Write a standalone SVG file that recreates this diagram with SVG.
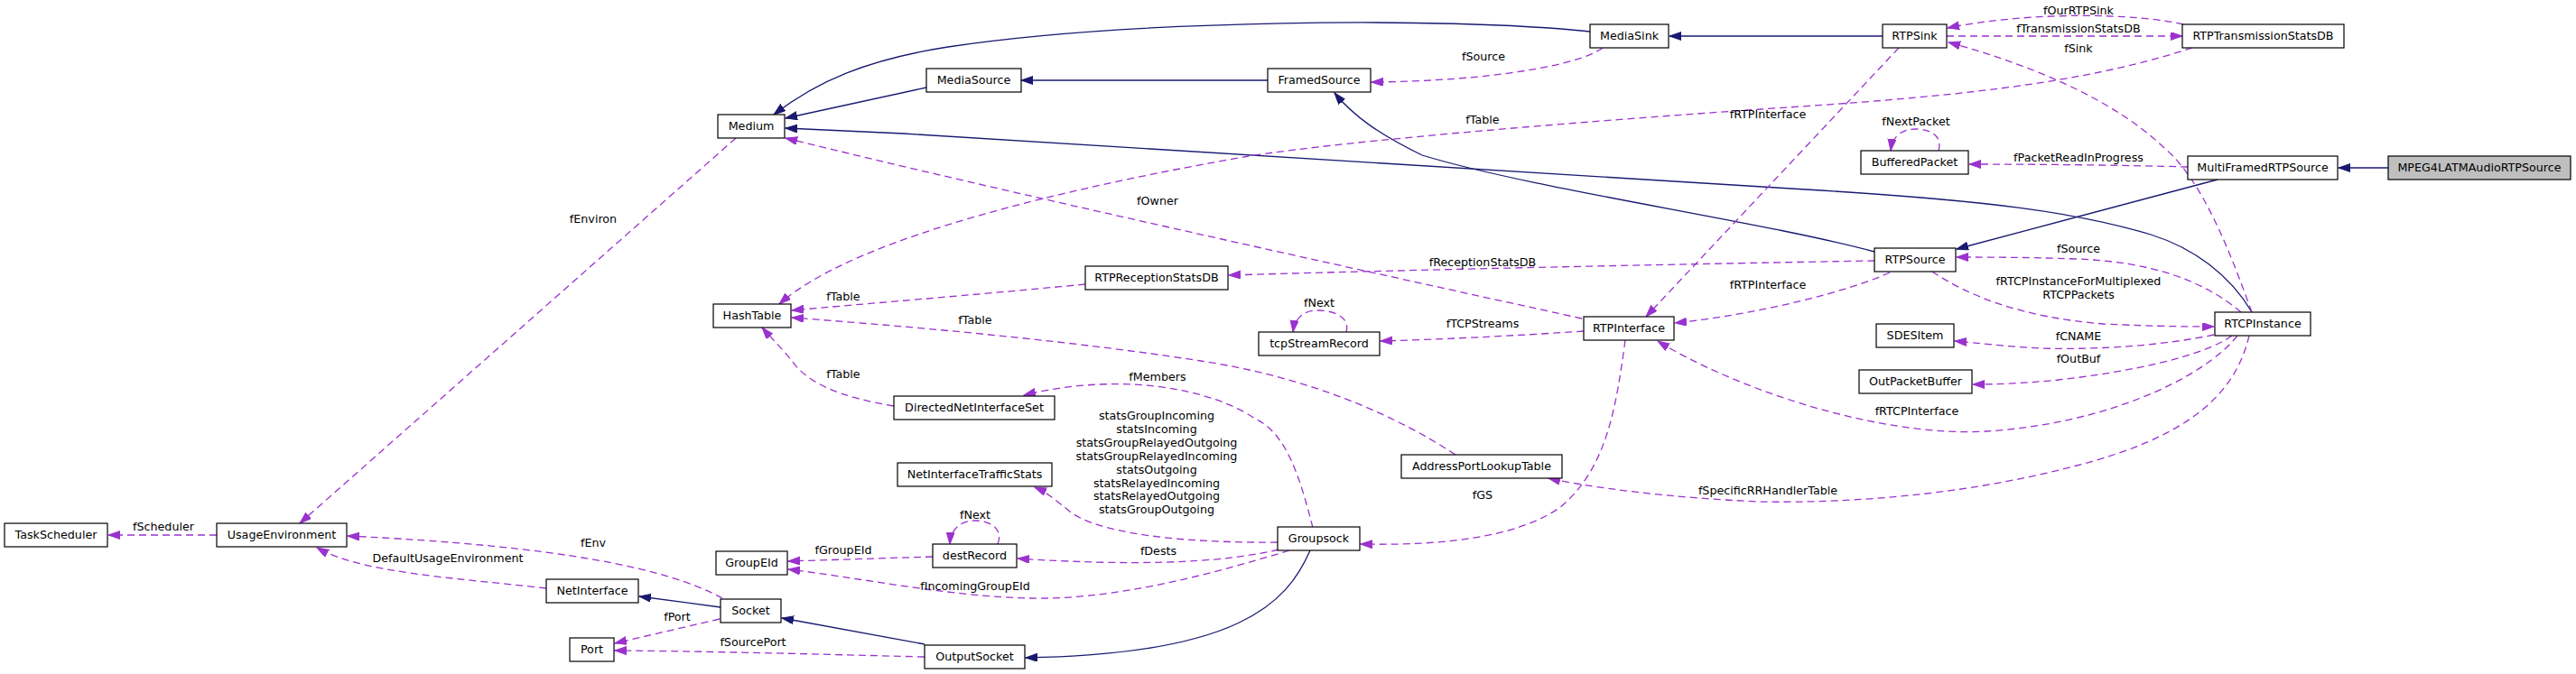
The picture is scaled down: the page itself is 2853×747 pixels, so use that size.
<svg xmlns="http://www.w3.org/2000/svg" width="2853" height="747" viewBox="0 0 2853 747">
<style>
.n rect{fill:#fff;stroke:#000;stroke-width:1.2}
.n text,.l{font-family:"DejaVu Sans",sans-serif;font-size:12.7px;fill:#000;text-anchor:middle}
.s{fill:none;stroke:#191970;stroke-width:1.3;marker-end:url(#an)}
.d{fill:none;stroke:#9a32cd;stroke-width:1.3;stroke-dasharray:8,5;marker-end:url(#ap)}
</style>
<defs>
<marker id="an" markerUnits="userSpaceOnUse" markerWidth="14" markerHeight="10" refX="13" refY="4.5" orient="auto"><path d="M0,0L13,4.5L0,9z" fill="#191970" stroke="#191970" stroke-width="1"/></marker>
<marker id="ap" markerUnits="userSpaceOnUse" markerWidth="14" markerHeight="10" refX="13" refY="4.5" orient="auto"><path d="M0,0L13,4.5L0,9z" fill="#9a32cd" stroke="#9a32cd" stroke-width="1"/></marker>
</defs>
<rect width="2853" height="747" fill="#fff"/>
<g id="edges">
<path class="s" d="M1761,35 C1600,18 1250,22 1050,52 C960,66 905,90 857,127"/>
<path class="s" d="M1026,97 C985,106 930,118 870,131"/>
<path class="s" d="M1404,89 L1131,89"/>
<path class="s" d="M2076,279 C1950,245 1700,210 1575,172 C1530,150 1500,130 1478,103"/>
<path class="s" d="M2494,346 C2470,305 2430,275 2382,260 C2300,235 2200,222 2000,210 L1000,148 L870,142"/>
<path class="s" d="M2456,199 L2167,276"/>
<path class="s" d="M2645,186 L2590,186"/>
<path class="s" d="M2085,40 L1849,40"/>
<path class="s" d="M798,673 L708,661"/>
<path class="s" d="M1024,714 L866,685"/>
<path class="s" d="M1451,610 C1425,670 1370,725 1136,729"/>
<path class="d" d="M815,153 L332,580"/>
<path class="d" d="M240,593 L120,593"/>
<path class="d" d="M800,663 C740,630 620,605 385,594"/>
<path class="d" d="M605,652 C500,640 400,635 351,607"/>
<path class="d" d="M797,686 L681,713"/>
<path class="d" d="M1024,728 C900,725 800,722 681,721"/>
<path class="d" d="M1428,610 C1330,640 1230,665 1140,663 C1050,661 950,640 873,631"/>
<path class="d" d="M1033,617 L873,622"/>
<path class="d" d="M1416,609 C1350,625 1250,627 1127,619"/>
<path class="d" d="M1105,603 C1112,585 1095,577 1080,577 C1065,577 1053,585 1052,603"/>
<path class="d" d="M1415,601 C1300,602 1215,590 1185,567 C1170,555 1160,546 1146,540"/>
<path class="d" d="M1454,585 C1440,530 1425,480 1390,464 C1340,430 1240,412 1134,438"/>
<path class="d" d="M990,450 C930,440 895,425 877,400 C865,385 850,370 844,363"/>
<path class="d" d="M1612,504 C1530,450 1430,415 1330,400 C1200,380 1050,365 877,352"/>
<path class="d" d="M1202,315 C1100,325 1000,333 877,344"/>
<path class="d" d="M2428,53 C2300,95 2150,108 1950,121 C1750,135 1500,155 1383,173 C1200,205 950,260 863,337"/>
<path class="d" d="M1752,353 C1500,298 1100,210 870,153"/>
<path class="d" d="M2076,289 C1900,292 1600,298 1361,305"/>
<path class="d" d="M2093,302 C2050,322 1950,348 1855,358"/>
<path class="d" d="M2103,53 L1823,351"/>
<path class="d" d="M1775,53 C1750,72 1650,90 1519,91"/>
<path class="d" d="M2156,40 L2417,40"/>
<path class="d" d="M2418,27 C2370,15 2250,12 2157,31"/>
<path class="d" d="M2494,346 C2470,280 2440,200 2396,163 C2340,110 2250,72 2158,47"/>
<path class="d" d="M2147,167 C2152,150 2137,143 2122,143 C2107,143 2096,150 2094,167"/>
<path class="d" d="M2423,185 C2350,183 2260,182 2181,182"/>
<path class="d" d="M2482,346 C2440,310 2380,290 2300,287 C2240,285 2200,285 2167,285"/>
<path class="d" d="M2140,301 C2180,328 2240,352 2330,359 C2390,362 2430,362 2452,362"/>
<path class="d" d="M2452,371 C2400,382 2330,388 2260,386 C2220,384 2190,380 2165,378"/>
<path class="d" d="M2472,372 C2440,395 2360,412 2280,421 C2240,425 2210,426 2185,426"/>
<path class="d" d="M2478,372 C2440,420 2330,470 2200,478 C2080,485 1920,430 1836,378"/>
<path class="d" d="M2491,372 C2475,440 2420,485 2300,516 C2180,548 2050,558 1950,556 C1850,552 1760,540 1715,530"/>
<path class="d" d="M1754,367 C1680,372 1600,376 1529,378"/>
<path class="d" d="M1491,368 C1496,351 1476,344 1460,344 C1444,344 1434,352 1432,368"/>
<path class="d" d="M1800,377 C1790,450 1780,520 1727,563 C1680,595 1600,605 1507,603"/>
</g>
<g id="labels">
<text class="l" x="657" y="247">fEnviron</text>
<text class="l" x="181" y="588">fScheduler</text>
<text class="l" x="657" y="606">fEnv</text>
<text class="l" x="496" y="623">DefaultUsageEnvironment</text>
<text class="l" x="750" y="688">fPort</text>
<text class="l" x="834" y="716">fSourcePort</text>
<text class="l" x="934" y="614">fGroupEId</text>
<text class="l" x="934" y="419">fTable</text>
<text class="l" x="934" y="333">fTable</text>
<text class="l" x="1080" y="359">fTable</text>
<text class="l" x="1642" y="137">fTable</text>
<text class="l" x="1282" y="422">fMembers</text>
<text class="l" x="1281" y="465">statsGroupIncoming</text>
<text class="l" x="1281" y="480">statsIncoming</text>
<text class="l" x="1281" y="495">statsGroupRelayedOutgoing</text>
<text class="l" x="1281" y="510">statsGroupRelayedIncoming</text>
<text class="l" x="1281" y="525">statsOutgoing</text>
<text class="l" x="1281" y="540">statsRelayedIncoming</text>
<text class="l" x="1281" y="554">statsRelayedOutgoing</text>
<text class="l" x="1281" y="569">statsGroupOutgoing</text>
<text class="l" x="1080" y="575">fNext</text>
<text class="l" x="1283" y="615">fDests</text>
<text class="l" x="1080" y="654">fIncomingGroupEId</text>
<text class="l" x="1642" y="553">fGS</text>
<text class="l" x="1958" y="548">fSpecificRRHandlerTable</text>
<text class="l" x="1282" y="227">fOwner</text>
<text class="l" x="1642" y="295">fReceptionStatsDB</text>
<text class="l" x="1642" y="363">fTCPStreams</text>
<text class="l" x="1461" y="340">fNext</text>
<text class="l" x="1958" y="131">fRTPInterface</text>
<text class="l" x="1958" y="320">fRTPInterface</text>
<text class="l" x="1643" y="67">fSource</text>
<text class="l" x="2302" y="16">fOurRTPSink</text>
<text class="l" x="2302" y="36">fTransmissionStatsDB</text>
<text class="l" x="2302" y="58">fSink</text>
<text class="l" x="2122" y="139">fNextPacket</text>
<text class="l" x="2302" y="179">fPacketReadInProgress</text>
<text class="l" x="2302" y="280">fSource</text>
<text class="l" x="2302" y="316">fRTCPInstanceForMultiplexed</text>
<text class="l" x="2302" y="331">RTCPPackets</text>
<text class="l" x="2302" y="377">fCNAME</text>
<text class="l" x="2302" y="402">fOutBuf</text>
<text class="l" x="2123" y="460">fRTCPInterface</text>
</g>
<g id="MPEG4LATMAudioRTPSource" class="n"><rect x="2645" y="173" width="202" height="26" style="fill:#bfbfbf"/><text x="2746" y="190">MPEG4LATMAudioRTPSource</text></g>
<g id="MultiFramedRTPSource" class="n"><rect x="2423" y="173" width="166" height="26"/><text x="2506" y="190">MultiFramedRTPSource</text></g>
<g id="RTPSource" class="n"><rect x="2076" y="275" width="90" height="26"/><text x="2121" y="292">RTPSource</text></g>
<g id="FramedSource" class="n"><rect x="1404" y="76" width="114" height="26"/><text x="1461" y="93">FramedSource</text></g>
<g id="MediaSource" class="n"><rect x="1026" y="76" width="105" height="26"/><text x="1078.5" y="93">MediaSource</text></g>
<g id="Medium" class="n"><rect x="795" y="127" width="74" height="26"/><text x="832" y="144">Medium</text></g>
<g id="HashTable" class="n"><rect x="790" y="337" width="86" height="26"/><text x="833" y="354">HashTable</text></g>
<g id="UsageEnvironment" class="n"><rect x="240" y="580" width="144" height="26"/><text x="312" y="597">UsageEnvironment</text></g>
<g id="TaskScheduler" class="n"><rect x="5" y="580" width="114" height="26"/><text x="62" y="597">TaskScheduler</text></g>
<g id="BufferedPacket" class="n"><rect x="2061" y="167" width="119" height="26"/><text x="2120.5" y="184">BufferedPacket</text></g>
<g id="RTCPInstance" class="n"><rect x="2453" y="346" width="106" height="26"/><text x="2506" y="363">RTCPInstance</text></g>
<g id="RTPSink" class="n"><rect x="2085" y="27" width="71" height="26"/><text x="2120.5" y="44">RTPSink</text></g>
<g id="MediaSink" class="n"><rect x="1761" y="27" width="87" height="26"/><text x="1804.5" y="44">MediaSink</text></g>
<g id="RTPTransmissionStatsDB" class="n"><rect x="2417" y="27" width="179" height="26"/><text x="2506.5" y="44">RTPTransmissionStatsDB</text></g>
<g id="RTPInterface" class="n"><rect x="1754" y="351" width="100" height="26"/><text x="1804" y="368">RTPInterface</text></g>
<g id="tcpStreamRecord" class="n"><rect x="1394" y="368" width="134" height="26"/><text x="1461" y="385">tcpStreamRecord</text></g>
<g id="Groupsock" class="n"><rect x="1415" y="584" width="91" height="26"/><text x="1460.5" y="601">Groupsock</text></g>
<g id="OutputSocket" class="n"><rect x="1024" y="715" width="111" height="26"/><text x="1079.5" y="732">OutputSocket</text></g>
<g id="Socket" class="n"><rect x="798" y="664" width="67" height="26"/><text x="831.5" y="681">Socket</text></g>
<g id="NetInterface" class="n"><rect x="605" y="642" width="102" height="26"/><text x="656" y="659">NetInterface</text></g>
<g id="Port" class="n"><rect x="631" y="707" width="49" height="26"/><text x="655.5" y="724">Port</text></g>
<g id="GroupEId" class="n"><rect x="793" y="611" width="79" height="26"/><text x="832.5" y="628">GroupEId</text></g>
<g id="destRecord" class="n"><rect x="1033" y="603" width="93" height="26"/><text x="1079.5" y="620">destRecord</text></g>
<g id="NetInterfaceTrafficStats" class="n"><rect x="994" y="513" width="171" height="26"/><text x="1079.5" y="530">NetInterfaceTrafficStats</text></g>
<g id="DirectedNetInterfaceSet" class="n"><rect x="990" y="439" width="178" height="26"/><text x="1079" y="456">DirectedNetInterfaceSet</text></g>
<g id="AddressPortLookupTable" class="n"><rect x="1552" y="504" width="178" height="26"/><text x="1641" y="521">AddressPortLookupTable</text></g>
<g id="RTPReceptionStatsDB" class="n"><rect x="1202" y="295" width="158" height="26"/><text x="1281" y="312">RTPReceptionStatsDB</text></g>
<g id="SDESItem" class="n"><rect x="2078" y="359" width="86" height="26"/><text x="2121" y="376">SDESItem</text></g>
<g id="OutPacketBuffer" class="n"><rect x="2059" y="410" width="125" height="26"/><text x="2121.5" y="427">OutPacketBuffer</text></g>
</svg>
